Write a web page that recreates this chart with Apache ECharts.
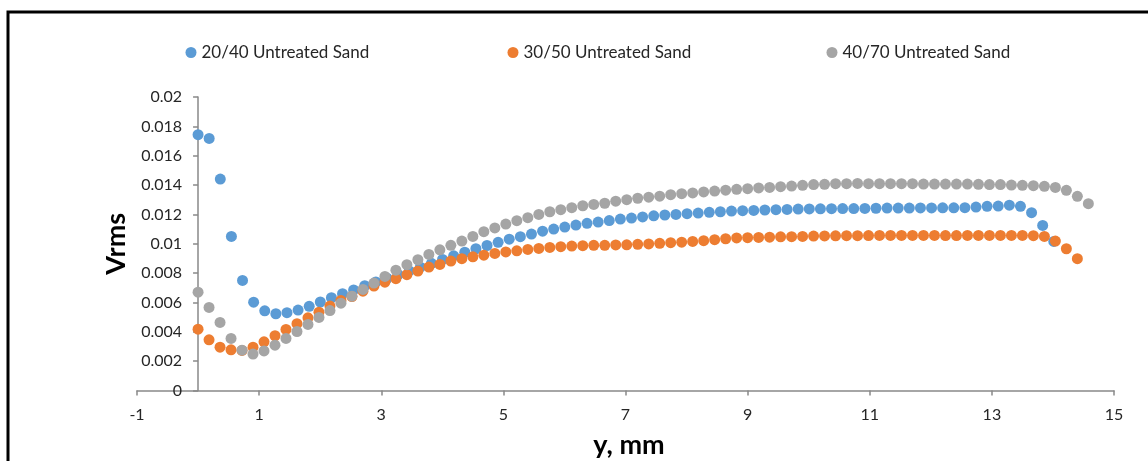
<!DOCTYPE html>
<html>
<head>
<meta charset="utf-8">
<script src="https://cdn.jsdelivr.net/npm/echarts@6/dist/echarts.min.js"></script>
<style>
html,body{margin:0;padding:0;background:#fff;}
#chart{width:1148px;height:461px;}
</style>
</head>
<body>
<div id="chart"></div>
<script>
// ---- data ----
const seriesNames = ['20/40 Untreated Sand', '30/50 Untreated Sand', '40/70 Untreated Sand'];

const xBlue = [0, 0.182, 0.364, 0.546, 0.728, 0.91, 1.092, 1.274, 1.456, 1.638,
  1.82, 2.002, 2.184, 2.366, 2.548, 2.73, 2.912, 3.094, 3.276, 3.458,
  3.64, 3.822, 4.004, 4.186, 4.368, 4.55, 4.732, 4.914, 5.096, 5.278,
  5.46, 5.642, 5.824, 6.006, 6.188, 6.37, 6.552, 6.734, 6.916, 7.098,
  7.28, 7.462, 7.644, 7.826, 8.008, 8.19, 8.372, 8.554, 8.736, 8.918,
  9.1, 9.282, 9.464, 9.646, 9.828, 10.01, 10.192, 10.374, 10.556, 10.738,
  10.92, 11.102, 11.284, 11.466, 11.648, 11.83, 12.012, 12.194, 12.376, 12.558,
  12.74, 12.922, 13.104, 13.286, 13.468, 13.65, 13.832, 14.014];
const yBlue = [0.01743, 0.01718, 0.01441, 0.0105, 0.0075, 0.00602, 0.00543, 0.00523, 0.0053, 0.00548,
  0.00574, 0.00603, 0.00632, 0.0066, 0.00685, 0.00714, 0.0074, 0.00765, 0.0079, 0.00815,
  0.0084, 0.00867, 0.00893, 0.00918, 0.00942, 0.00966, 0.00988, 0.0101, 0.01031, 0.01048,
  0.01066, 0.01086, 0.011, 0.01114, 0.01127, 0.01139, 0.01148, 0.01158, 0.01168, 0.01175,
  0.01183, 0.0119, 0.01196, 0.012, 0.01205, 0.01209, 0.01214, 0.01218, 0.01223, 0.01225,
  0.01227, 0.0123, 0.01232, 0.01234, 0.01236, 0.01237, 0.01238, 0.01239, 0.0124, 0.0124,
  0.01241, 0.01242, 0.01243, 0.01243, 0.01243, 0.01244, 0.01244, 0.01245, 0.01245, 0.01246,
  0.0125, 0.01255, 0.01257, 0.01263, 0.01255, 0.01212, 0.01125, 0.01016];

const xOther = [0, 0.18, 0.36, 0.54, 0.72, 0.9, 1.08, 1.26, 1.44, 1.62,
  1.8, 1.98, 2.16, 2.34, 2.52, 2.7, 2.88, 3.06, 3.24, 3.42,
  3.6, 3.78, 3.96, 4.14, 4.32, 4.5, 4.68, 4.86, 5.04, 5.22,
  5.4, 5.58, 5.76, 5.94, 6.12, 6.3, 6.48, 6.66, 6.84, 7.02,
  7.2, 7.38, 7.56, 7.74, 7.92, 8.1, 8.28, 8.46, 8.64, 8.82,
  9, 9.18, 9.36, 9.54, 9.72, 9.9, 10.08, 10.26, 10.44, 10.62,
  10.8, 10.98, 11.16, 11.34, 11.52, 11.7, 11.88, 12.06, 12.24, 12.42,
  12.6, 12.78, 12.96, 13.14, 13.32, 13.5, 13.68, 13.86, 14.04, 14.22,
  14.4, 14.58];
const yOrange = [0.00418, 0.00345, 0.00295, 0.00277, 0.00273, 0.00295, 0.00332, 0.00373, 0.00416, 0.00455,
  0.00495, 0.00534, 0.00575, 0.00614, 0.0064, 0.00677, 0.00712, 0.00738, 0.00762, 0.00789,
  0.00814, 0.00841, 0.00859, 0.00882, 0.00898, 0.00911, 0.00922, 0.00934, 0.00944, 0.00952,
  0.00961, 0.00968, 0.00975, 0.0098, 0.00984, 0.00987, 0.00989, 0.00989, 0.00992, 0.00993,
  0.00996, 0.00999, 0.01003, 0.01007, 0.01011, 0.01016, 0.01021, 0.01028, 0.01034, 0.0104,
  0.01041, 0.01043, 0.01045, 0.01047, 0.01048, 0.0105, 0.01052, 0.01053, 0.01054, 0.01055,
  0.01055, 0.01056, 0.01057, 0.01057, 0.01057, 0.01057, 0.01057, 0.01057, 0.01056, 0.01056,
  0.01057, 0.01057, 0.01057, 0.01057, 0.01057, 0.01057, 0.01055, 0.0105, 0.01018, 0.00966,
  0.00898];
const yGray = [0.0067, 0.00566, 0.00464, 0.00355, 0.00275, 0.00248, 0.0027, 0.00309, 0.00355, 0.00402,
  0.0045, 0.00498, 0.00545, 0.00595, 0.00643, 0.00689, 0.00732, 0.00777, 0.0082, 0.00857,
  0.00891, 0.00927, 0.00959, 0.00989, 0.01018, 0.0105, 0.01082, 0.01108, 0.01134, 0.01157,
  0.01178, 0.012, 0.01218, 0.01232, 0.01246, 0.01259, 0.01268, 0.01276, 0.0129, 0.013,
  0.0131, 0.01317, 0.01324, 0.01334, 0.01341, 0.01346, 0.01353, 0.01359, 0.01365, 0.01371,
  0.01375, 0.0138, 0.01384, 0.01389, 0.01393, 0.01398, 0.01403, 0.01405, 0.01409, 0.01409,
  0.01411, 0.01409, 0.01409, 0.01409, 0.01409, 0.01409, 0.01407, 0.01407, 0.01407, 0.01407,
  0.01407, 0.01405, 0.01403, 0.01403, 0.014, 0.01398, 0.01396, 0.01391, 0.01384, 0.01364,
  0.01323, 0.01273];

const xTicks = { min: -1, max: 15, step: 2 };
const yTicks = { min: 0, max: 0.02, step: 0.002 };

// ---- chart ----
function pairs(xs, ys) { return ys.map((v, i) => [xs[i], v]); }

const FONT = 'Lato';
const TXT = '#262626';
const AXIS = '#898989';
const colors = ['#5B9BD5', '#ED7D31', '#A5A5A5'];

const GRID_LEFT = 137, GRID_RIGHT = 34;
const plotW = 1148 - GRID_LEFT - GRID_RIGHT;
// y axis crosses the x axis at x = 0
const yAxisShift = plotW * (0 - xTicks.min) / (xTicks.max - xTicks.min);

const chart = echarts.init(document.getElementById('chart'), null, { renderer: 'canvas' });

function legendFor(name, left) {
  return {
    data: [name], left: left, top: 44, padding: 0,
    icon: 'circle', itemWidth: 11, itemHeight: 11,
    textStyle: { fontFamily: FONT, fontSize: 17, color: TXT, lineHeight: 17 }
  };
}

chart.setOption({
  animation: false,
  backgroundColor: '#ffffff',
  color: colors,
  legend: [
    legendFor(seriesNames[0], 185.5),
    legendFor(seriesNames[1], 507.5),
    legendFor(seriesNames[2], 826.5)
  ],
  grid: { left: GRID_LEFT, right: GRID_RIGHT, top: 97, bottom: 70.5, containLabel: false, outerBoundsMode: 'none' },
  xAxis: {
    type: 'value', min: xTicks.min, max: xTicks.max, interval: xTicks.step,
    name: 'y, mm', nameLocation: 'middle', nameGap: 41,
    nameTextStyle: { fontFamily: FONT, fontSize: 27, fontWeight: 'bold', color: '#000', padding: [0, 0, 0, 7] },
    axisLine: { onZero: false, lineStyle: { color: AXIS, width: 1.5 } },
    axisTick: { show: true, inside: false, length: 5, lineStyle: { color: AXIS, width: 1.5 } },
    axisLabel: { fontFamily: FONT, fontSize: 16, color: TXT, margin: 16 },
    splitLine: { show: false }
  },
  yAxis: {
    type: 'value', min: yTicks.min, max: yTicks.max, interval: yTicks.step,
    position: 'left', offset: -yAxisShift,
    name: 'Vrms', nameLocation: 'middle', nameGap: 68, nameRotate: 90,
    nameTextStyle: { fontFamily: FONT, fontSize: 27, fontWeight: 'bold', color: '#000' },
    axisLine: { show: true, onZero: false, lineStyle: { color: AXIS, width: 1.5 } },
    axisTick: { show: true, inside: false, length: 5, lineStyle: { color: AXIS, width: 1.5 } },
    axisLabel: { fontFamily: FONT, fontSize: 16, color: TXT, margin: 16,
      formatter: v => String(+v.toFixed(3)) },
    splitLine: { show: false }
  },
  series: [
    { name: seriesNames[0], type: 'scatter', symbol: 'circle', symbolSize: 11, data: pairs(xBlue, yBlue), itemStyle: { color: colors[0], opacity: 1 } },
    { name: seriesNames[1], type: 'scatter', symbol: 'circle', symbolSize: 11, data: pairs(xOther, yOrange), itemStyle: { color: colors[1], opacity: 1 } },
    { name: seriesNames[2], type: 'scatter', symbol: 'circle', symbolSize: 11, data: pairs(xOther, yGray), itemStyle: { color: colors[2], opacity: 1 } }
  ],
  graphic: [{
    type: 'rect', left: 5.5, top: 9.5, silent: true,
    shape: { x: 0, y: 0, width: 1300, height: 600 },
    style: { fill: null, stroke: '#000', lineWidth: 3 }
  }]
});
</script>
</body>
</html>
